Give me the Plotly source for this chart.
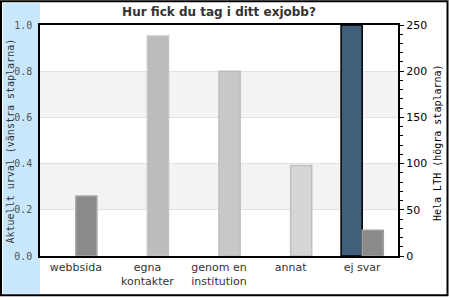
import plotly.graph_objects as go

categories = ["webbsida", "egna<br>kontakter", "genom en<br>institution", "annat", "ej svar"]
aktuellt_urval = [0, 0, 0, 0, 1.0]
hela_lth = [65, 238, 200, 98, 28]
lth_colors = ["#8a8a8a", "#bcbcbc", "#c8c8c8", "#d6d6d6", "#8a8a8a"]
lth_lines = ["#a8a8a8", "#c4c4c4", "#bdbdbd", "#c0c0c0", "#a0a0a0"]
left_ticks = [0, 0.2, 0.4, 0.6, 0.8, 1.0]
left_ticklabels = ["0.0", "0.2", "0.4", "0.6", "0.8", "1.0"]
right_ticks = [0, 50, 100, 150, 200, 250]

W, H = 450, 300
L, R, T, B = 40, 52, 25, 42
pw, ph = W - L - R, H - T - B

def px(x):
    return (x - L) / pw

def py(y):
    return (H - B - y) / ph

fig = go.Figure()
fig.add_trace(go.Bar(x=categories, y=aktuellt_urval, yaxis="y", offsetgroup="a",
                     marker=dict(color="#3f5f7a",
                                 line=dict(color="#000000",
                                           width=[1.5 if v > 0 else 0 for v in aktuellt_urval])),
                     showlegend=False))
fig.add_trace(go.Bar(x=categories, y=hela_lth, yaxis="y2", offsetgroup="b",
                     marker=dict(color=lth_colors, line=dict(color=lth_lines, width=1.5)),
                     showlegend=False))

shapes = [
    dict(type="rect", xref="paper", yref="paper", x0=px(3), x1=px(40), y0=py(296), y1=py(3),
         fillcolor="#c8e7fb", line=dict(width=0), layer="below"),
    dict(type="rect", xref="paper", yref="paper", x0=px(1), x1=px(447.5), y0=py(297.5), y1=py(1),
         fillcolor="rgba(0,0,0,0)", line=dict(color="#000000", width=2), layer="above"),
]
for y0, y1 in [(0.2, 0.4), (0.6, 0.8)]:
    shapes.append(dict(type="rect", xref="paper", yref="y", x0=0, x1=1, y0=y0, y1=y1,
                       fillcolor="#f3f3f3", line=dict(width=0), layer="below"))

annotations = [
    dict(text="Aktuellt urval (vänstra staplarna)", xref="paper", yref="paper",
         x=px(10.5), y=py(142), textangle=-90, showarrow=False, xanchor="center", yanchor="middle",
         font=dict(family="DejaVu Sans Mono", size=10, color="#333333")),
    dict(text="Hela LTH (högra staplarna)", xref="paper", yref="paper",
         x=px(438), y=py(144), textangle=-90, showarrow=False, xanchor="center", yanchor="middle",
         font=dict(family="DejaVu Sans Mono", size=10, color="#000000")),
]

fig.update_layout(
    width=W, height=H,
    margin=dict(l=L, r=R, t=T, b=B),
    paper_bgcolor="white", plot_bgcolor="white",
    barmode="group", bargap=0.41, bargroupgap=0,
    title=dict(text="<b>Hur fick du tag i ditt exjobb?</b>", x=219 / W, xanchor="center",
               y=1 - 12 / H, yanchor="middle",
               font=dict(family="DejaVu Sans", size=12, color="#333333")),
    shapes=shapes,
    annotations=annotations,
    xaxis=dict(showline=True, linecolor="#000000", linewidth=1.5, mirror=True,
               ticks="", tickfont=dict(family="DejaVu Sans", size=11, color="#333333"),
               showgrid=False),
    yaxis=dict(range=[0, 1.0], tickvals=left_ticks, ticktext=left_ticklabels,
               showline=True, linecolor="#000000", linewidth=1.5, mirror=True,
               showgrid=True, gridcolor="#e2e2e2", gridwidth=1, zeroline=False,
               ticks="", ticklabelstandoff=4,
               tickfont=dict(family="DejaVu Sans Mono", size=10, color="#555555")),
    yaxis2=dict(range=[0, 250], overlaying="y", side="right", tickvals=right_ticks,
                showgrid=False, zeroline=False, showline=False,
                ticks="outside", ticklen=5, tickcolor="#000000", tickwidth=1,
                minor=dict(dtick=10, ticks="outside", ticklen=4, tickcolor="#000000"),
                tickfont=dict(family="DejaVu Sans", size=11, color="#000000")),
)

fig.write_html("out.html")
